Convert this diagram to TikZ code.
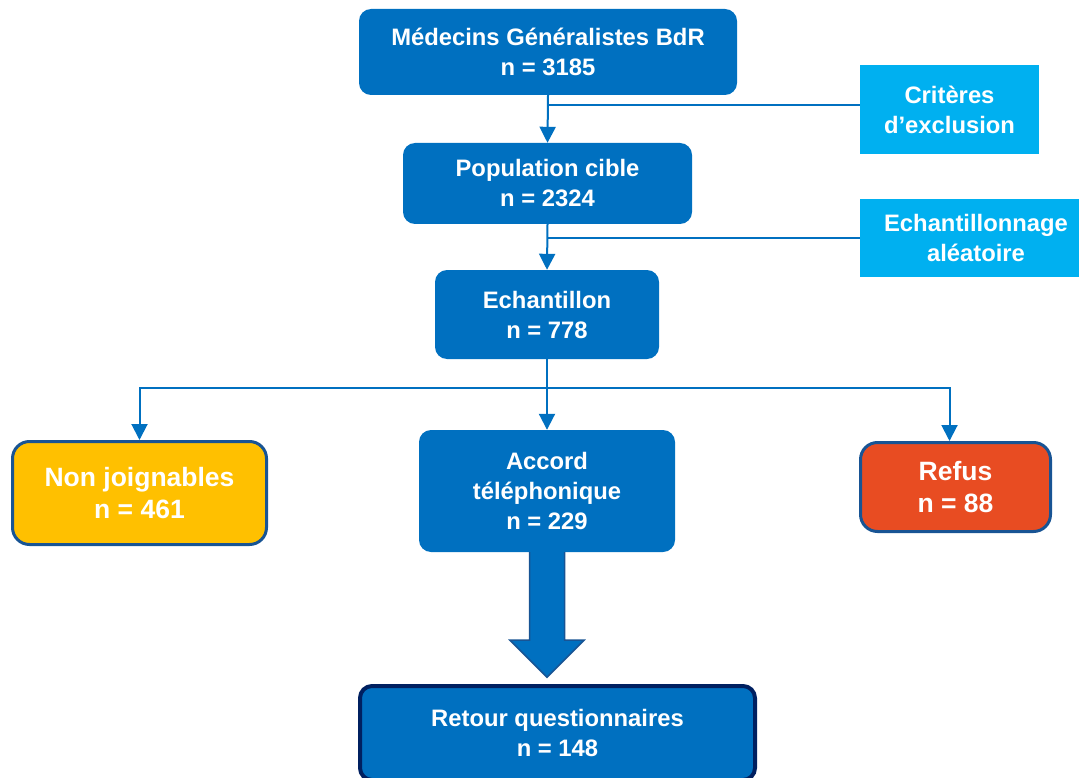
\documentclass[tikz,border=0pt]{standalone}
\usepackage{fontspec}
\setmainfont{Liberation Sans}
\usetikzlibrary{arrows.meta}

\definecolor{bleu}{RGB}{0,112,192}
\definecolor{ciel}{RGB}{0,176,240}
\definecolor{jaune}{RGB}{255,192,0}
\definecolor{rouge}{RGB}{232,76,34}
\definecolor{bord}{RGB}{24,84,148}
\definecolor{marine}{RGB}{0,32,96}

\tikzset{
  boite/.style={fill=bleu, rounded corners=12pt, text=white, align=center,
    inner sep=0pt, font=\bfseries\fontsize{23.8}{30}\selectfont},
  critere/.style={boite, fill=ciel, rounded corners=0pt},
  issue/.style={boite, draw=bord, line width=3pt, rounded corners=17pt,
    font=\bfseries\fontsize{26.5}{32}\selectfont},
  fleche/.style={draw=bleu, line width=2pt, -{Triangle[width=16pt,length=16pt]}},
  trait/.style={draw=bleu, line width=2pt},
}

\begin{document}
\begin{tikzpicture}[x=1pt,y=1pt]
    \useasboundingbox (0,0) rectangle (1079,-778);

    % boites principales
    \node[boite, minimum width=378, minimum height=86] (medecins) at (548,-52)
        {Médecins Généralistes BdR\\n = 3185};
    \node[boite, minimum width=289, minimum height=81] (population) at (547.5,-183.5)
        {Population cible\\n = 2324};
    \node[boite, minimum width=224, minimum height=89] (echantillon) at (547,-314.5)
        {Echantillon\\n = 778};
    \node[boite, minimum width=256, minimum height=122] (accord) at (547,-491)
        {Accord\\téléphonique\\n = 229};
    \node[boite, draw=marine, line width=4pt, minimum width=395, minimum height=94] (retour) at (557.5,-733)
        {Retour questionnaires\\n = 148};

    % criteres
    \node[critere, minimum width=179, minimum height=89] (exclusion) at (949.5,-109.5)
        {Critères\\d’exclusion};
    \node[critere, minimum width=232, minimum height=78] (tirage) at (976,-238)
        {Echantillonnage\\aléatoire};

    % issues
    \node[issue, fill=jaune, minimum width=254, minimum height=103] (nonjoint) at (139.5,-493)
        {Non joignables\\n = 461};
    \node[issue, fill=rouge, minimum width=190, minimum height=89] (refus) at (955.5,-487)
        {Refus\\n = 88};

    % liens
    \draw[fleche] (medecins.south) -- (population.north);
    \draw[trait] (medecins.south |- exclusion.west) ++(0,4) -- ([yshift=4]exclusion.west);
    \draw[fleche] (population.south) -- (echantillon.north);
    \draw[trait] (population.south |- tirage.west) -- (tirage.west);

    \coordinate (split) at (547,-388);
    \draw[trait] (echantillon.south) -- (split);
    \draw[fleche] (split) -| (nonjoint.north);
    \draw[fleche] (split) -| ([xshift=-6]refus.north);
    \draw[fleche] (split) -- (accord.north);

    % grosse fleche
    \draw[fill=bleu, draw=bord, line width=1.5pt]
        ([xshift=-17.5]accord.south) -- ([xshift=-17.5,yshift=-88]accord.south)
        -- ([xshift=-37,yshift=-88]accord.south) -- ([yshift=-125]accord.south)
        -- ([xshift=37,yshift=-88]accord.south) -- ([xshift=17.5,yshift=-88]accord.south)
        -- ([xshift=17.5]accord.south);
\end{tikzpicture}
\end{document}
